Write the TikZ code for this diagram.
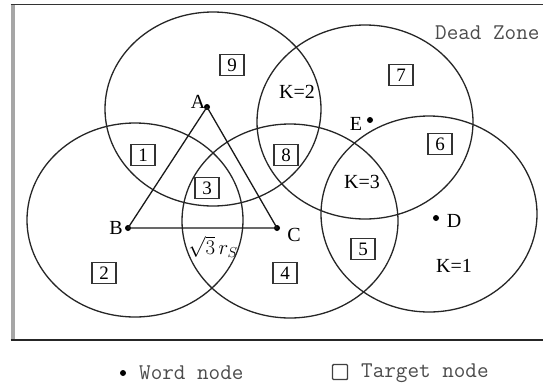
\documentclass[tikz,border=0pt]{standalone}
\usepackage{fontspec}
\setmainfont{Liberation Serif}
\begin{document}
\begin{tikzpicture}[x=1pt,y=-1pt,
  zone/.style={draw=black!85, line width=1.3pt},
  wdot/.style={circle, fill=black, inner sep=0pt, minimum size=6pt},
  tbox/.style={draw=black!80, line width=1.2pt, minimum width=24pt, minimum height=21pt, inner sep=0pt, font=\fontsize{19}{19}\selectfont},
  lbl/.style={font=\fontsize{20}{20}\selectfont, inner sep=0pt},
  mono/.style={font=\ttfamily\fontsize{22.5}{22.5}\selectfont, text=black!70, inner sep=0pt, anchor=west},
  tri/.style={draw=black!90, line width=1.3pt}]
\useasboundingbox (0,0) rectangle (543,386);
\fill[white] (0,0) rectangle (543,386);
% frame
\draw[gray!70, line width=4pt] (12.5,4) -- (12.5,341);
\draw[black!80, line width=1.6pt] (10.5,4.5) -- (543,4.5);
\draw[black!85, line width=1.6pt] (10.5,340) -- (543,340);
% coverage zones
\draw[zone] (213,109) ellipse [x radius=108pt, y radius=97pt];
\draw[zone] (135,220) ellipse [x radius=108pt, y radius=97pt];
\draw[zone] (290,221) ellipse [x radius=108pt, y radius=97pt];
\draw[zone] (365,122) ellipse [x radius=108pt, y radius=97pt];
\draw[zone] (429,214) ellipse [x radius=108pt, y radius=98pt];
% word nodes
\node[wdot] (A) at (207,107) {};
\node[wdot] (B) at (128,228) {};
\node[wdot] (C) at (277,228) {};
\node[wdot] (E) at (370,120) {};
\node[wdot] (D) at (436,218) {};
\node[lbl] (lA) at (198,102) {A};
\node[lbl] (lB) at (116,228) {B};
\node[lbl] (lC) at (294,235) {C};
\node[lbl] (lE) at (356,124) {E};
\node[lbl] (lD) at (454,221) {D};
% triangle
\draw[tri] (A.center) -- (B.center) -- (C.center) -- cycle;
\node[lbl] (rs) at (213,247) {$\sqrt{3}\,r_S$};
% target nodes
\node[tbox] (t9) at (232,65) {9};
\node[tbox] (t1) at (143,155) {1};
\node[tbox] (t3) at (207,188) {3};
\node[tbox] (t2) at (104,273) {2};
\node[tbox] (t4) at (285,273) {4};
\node[tbox] (t5) at (363,249) {5};
\node[tbox] (t6) at (440,144) {6};
\node[tbox] (t7) at (401,75) {7};
\node[tbox] (t8) at (286,155) {8};
% coverage labels
\node[lbl] (k2) at (297,92) {K=2};
\node[lbl] (k3) at (362,182) {K=3};
\node[lbl] (k1) at (454,266) {K=1};
\node[mono] (dz) at (435,33) {Dead Zone};
% legend
\node[wdot] (lgdot) at (123,373) {};
\node[mono] (lgw) at (139,373) {Word node};
\node[draw=black!75, line width=1.4pt, rounded corners=1pt, minimum size=15pt, inner sep=0pt] (lgbox) at (340,372) {};
\node[mono] (lgt) at (361,373) {Target node};
\end{tikzpicture}
\end{document}
